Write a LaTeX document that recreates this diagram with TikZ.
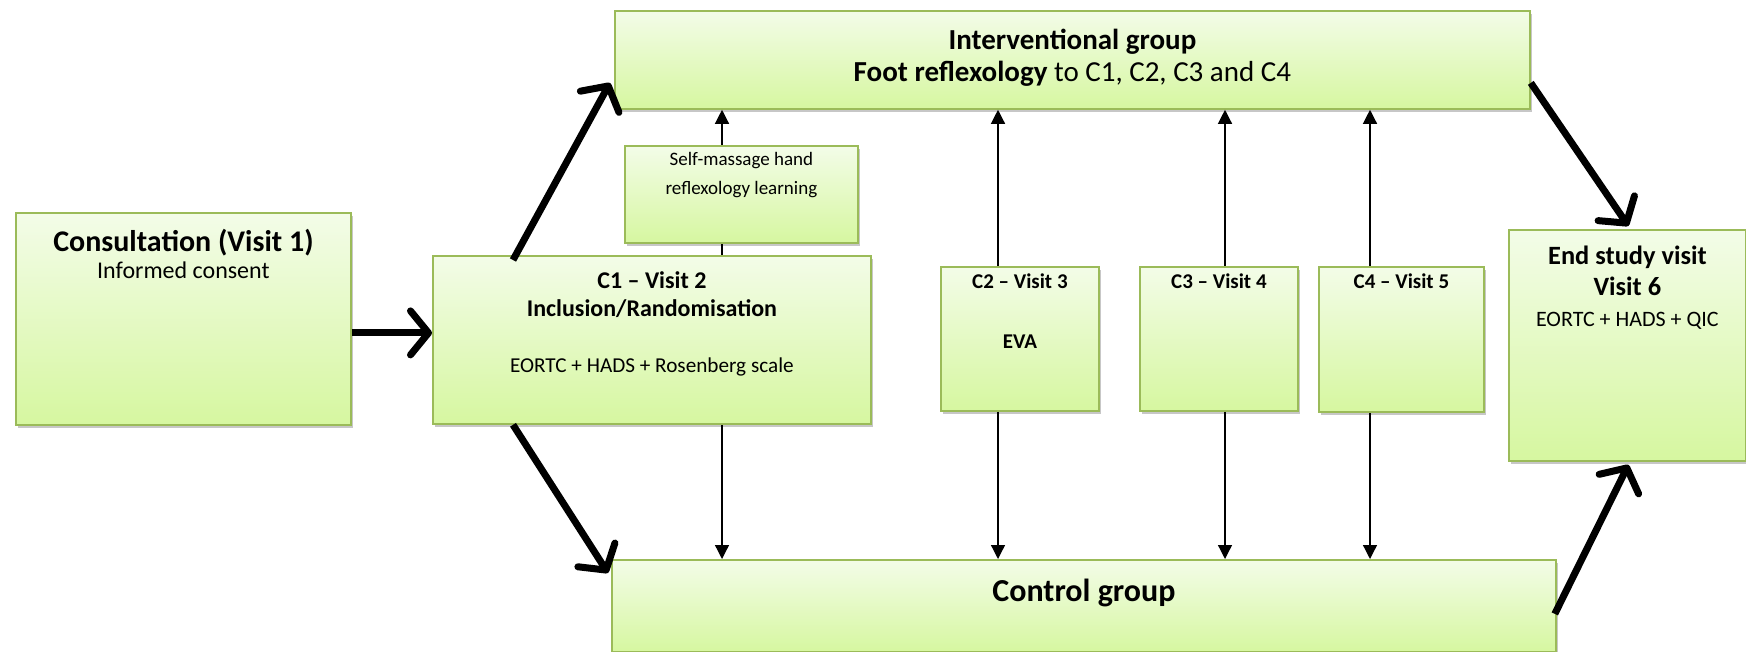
\documentclass[tikz,border=0pt]{standalone}
\usepackage{fontspec}
\setmainfont{Carlito}
\usetikzlibrary{arrows.meta,calc,shadows}
\definecolor{boxtop}{RGB}{243,252,232}
\definecolor{boxbot}{RGB}{214,247,160}
\definecolor{boxline}{RGB}{155,187,89}
\tikzset{
  box/.style={draw=boxline,line width=0.9pt,top color=boxtop,bottom color=boxbot,
    anchor=north west,inner sep=0pt,
    drop shadow={shadow xshift=1.2pt,shadow yshift=-1.6pt,fill=black,opacity=0.22}},
  flow/.style={line width=3.5pt,-{Straight Barb[length=9pt,width=22pt,round]}},
  link/.style={line width=0.65pt,-{Triangle[length=7pt,width=7pt]}},
  txt/.style={align=center,anchor=north,inner sep=0pt},
}
\begin{document}
\begin{tikzpicture}[x=0.5pt,y=-0.5pt]
\useasboundingbox (0,0) rectangle (1746,652);
% boxes
\node[box,minimum width=167.5pt,minimum height=106pt] (cons) at (15,212) {};
\node[box,minimum width=219pt,minimum height=84pt] (c1) at (432,255) {};
\node[box,minimum width=116.5pt,minimum height=48.5pt] (self) at (624,145) {};
\node[box,minimum width=457.5pt,minimum height=49pt] (interv) at (614,10) {};
\node[box,minimum width=79pt,minimum height=72pt] (c2) at (940,266) {};
\node[box,minimum width=79pt,minimum height=72pt] (c3) at (1139,266) {};
\node[box,minimum width=82.5pt,minimum height=72.5pt] (c4) at (1318,266) {};
\node[box,minimum width=118.5pt,minimum height=115.5pt] (end) at (1508,229) {};
\node[box,minimum width=472pt,minimum height=46pt] (control) at (611,559) {};
% texts
\node[txt,font=\fontsize{15}{13.5}\selectfont] (tcons) at ($(cons.north)+(0,17)$)
  {{\bfseries Consultation (Visit 1)}\\ {\fontsize{12}{13.5}\selectfont Informed consent}};
\node[txt,font=\fontsize{12}{14}\selectfont\bfseries] (tc1) at ($(c1.north)+(0,16)$)
  {C1 -- Visit 2\\ Inclusion/Randomisation\\[14pt] {\mdseries\fontsize{10.6}{14}\selectfont EORTC + HADS + Rosenberg scale}};
\node[txt,font=\fontsize{9.5}{14.5}\selectfont] (tself) at ($(self.north)+(0,7)$)
  {Self-massage hand\\ reflexology learning};
\node[txt,font=\fontsize{14.5}{16}\selectfont] (tinterv) at ($(interv.north)+(0,19)$)
  {{\bfseries Interventional group}\\ {\bfseries Foot reflexology} to C1, C2, C3 and C4};
\node[txt,font=\fontsize{10.5}{30}\selectfont\bfseries] (tc2) at ($(c2.north)+(0,7)$)
  {C2 -- Visit 3\\ EVA};
\node[txt,font=\fontsize{10.5}{12}\selectfont\bfseries] (tc3) at ($(c3.north)+(0,7)$) {C3 -- Visit 4};
\node[txt,font=\fontsize{10.5}{12}\selectfont\bfseries] (tc4) at ($(c4.north)+(0,7)$) {C4 -- Visit 5};
\node[txt,font=\fontsize{13.2}{15.5}\selectfont] (tend) at ($(end.north)+(0,17)$)
  {{\bfseries End study visit}\\ {\bfseries Visit 6}\\ {\fontsize{11}{13}\selectfont EORTC + HADS + QIC}};
\node[anchor=base,inner sep=0pt,font=\fontsize{16}{18}\selectfont\bfseries] (tcontrol)
  at ($(control.north)+(0,42)$) {Control group};
% thin links
\coordinate (x1) at (722,0);
\draw[link] (c1.south -| x1) -- (control.north -| x1);
\draw[line width=0.65pt] (c1.north -| x1) -- (self.south -| x1);
\draw[link] (self.north -| x1) -- (interv.south -| x1);
\foreach \c/\xx in {c2/998,c3/1225,c4/1370}{
  \coordinate (x\c) at (\xx,0);
  \draw[link] (\c.north -| x\c) -- (interv.south -| x\c);
  \draw[link] (\c.south -| x\c) -- (control.north -| x\c);
}
% thick arrows
\draw[flow] ($(cons.east)+(0,14)$) -- ($(c1.west)+(0,-7)$);
\draw[flow] ($(c1.north west)+(81,5)$) -- ($(interv.west)+(-4,23)$);
\draw[flow] ($(c1.south west)+(81,0)$) -- ($(control.north west)+(-3,14)$);
\draw[flow] ($(interv.east)+(0,23)$) -- ($(end.north)+(1,-3)$);
\draw[flow] ($(control.east)+(-2,8)$) -- ($(end.south)+(1,3)$);
\end{tikzpicture}
\end{document}
